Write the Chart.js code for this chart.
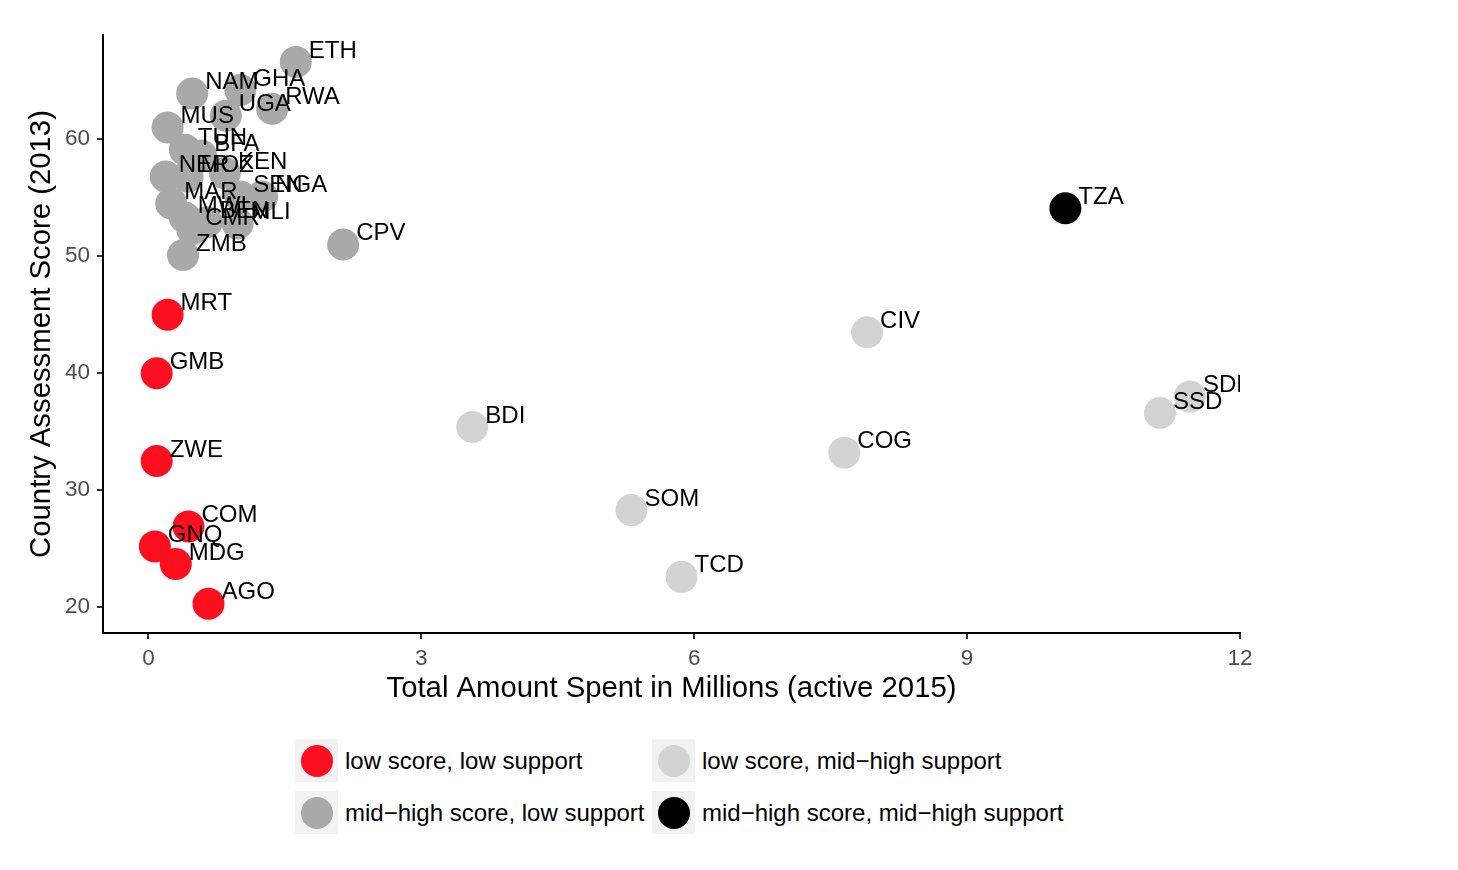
<!DOCTYPE html>
<html>
<head>
<meta charset="utf-8">
<script src="https://cdn.jsdelivr.net/npm/chart.js@4.4.1/dist/chart.umd.min.js"></script>
<style>
  body { margin: 0; background: #fff; font-family: 'Liberation Sans', Arial, sans-serif; }
  #wrap { position: relative; width: 1458px; height: 870px; }
  #legend { position: absolute; left: 295px; top: 739px; display: grid;
            grid-template-columns: 357px auto; row-gap: 9px; }
  .item { display: flex; align-items: center; height: 43px; }
  .key { width: 43px; height: 43px; background: #f2f2f2; display: flex;
         align-items: center; justify-content: center; margin-right: 7px; }
  .dot { width: 32px; height: 32px; border-radius: 50%; }
  .item span { font-size: 24px; color: #000; }
</style>
</head>
<body>
<div id="wrap">
  <canvas id="chart" width="1458" height="720"></canvas>
  <div id="legend"></div>
</div>
<script>
// groups, in legend order (filled by column like ggplot: col 1 = first two)
const groups = ['low score, low support', 'mid\u2212high score, low support',
                'low score, mid\u2212high support', 'mid\u2212high score, mid\u2212high support'];
const groupColors = ['#fe0f1f', '#a9a9a9', '#d3d3d3', '#000000'];

const countries = ['ETH', 'GHA', 'NAM', 'UGA', 'RWA', 'MUS', 'TUN', 'BFA', 'NER', 'MOZ',
  'KEN', 'SEN', 'NGA', 'MAR', 'MWI', 'BEN', 'MLI', 'CMR', 'ZMB', 'CPV', 'TZA',
  'MRT', 'GMB', 'ZWE', 'COM', 'GNQ', 'MDG', 'AGO',
  'CIV', 'BDI', 'COG', 'SOM', 'TCD', 'SDN', 'SSD'];
const spent = [1.62, 1.01, 0.48, 0.85, 1.36, 0.21, 0.40, 0.58, 0.19, 0.43,
  0.84, 1.01, 1.25, 0.25, 0.40, 0.64, 0.98, 0.48, 0.38, 2.14, 10.08,
  0.21, 0.09, 0.09, 0.44, 0.07, 0.30, 0.66,
  7.90, 3.56, 7.65, 5.31, 5.86, 11.45, 11.12];
const scores = [66.6, 64.2, 63.9, 62.0, 62.6, 61.0, 59.1, 58.6, 56.8, 56.8,
  57.1, 55.1, 55.1, 54.5, 53.3, 52.9, 52.8, 52.3, 50.1, 51.0, 54.1,
  45.0, 40.0, 32.5, 26.9, 25.2, 23.7, 20.3,
  43.5, 35.4, 33.2, 28.3, 22.6, 38.0, 36.6];
const groupOf = [1, 1, 1, 1, 1, 1, 1, 1, 1, 1,
  1, 1, 1, 1, 1, 1, 1, 1, 1, 1, 3,
  0, 0, 0, 0, 0, 0, 0,
  2, 2, 2, 2, 2, 2, 2];

const xTicks = [0, 3, 6, 9, 12];
const yTicks = [20, 30, 40, 50, 60];

const FONT = "'Liberation Sans', Arial, sans-serif";

const datasets = groups.map((g, gi) => {
  const pts = [];
  countries.forEach((c, i) => {
    if (groupOf[i] === gi) pts.push({ x: spent[i], y: scores[i], label: c });
  });
  return {
    label: g,
    data: pts,
    backgroundColor: groupColors[gi],
    borderWidth: 0,
    pointRadius: 16,
    pointHoverRadius: 16
  };
});

// country codes next to the points, clipped to the panel
const pointLabels = {
  id: 'pointLabels',
  afterDatasetsDraw(chart) {
    const ctx = chart.ctx;
    const a = chart.chartArea;
    ctx.save();
    ctx.beginPath();
    ctx.rect(a.left, a.top, a.right - a.left, a.bottom - a.top);
    ctx.clip();
    ctx.font = '24px ' + FONT;
    ctx.fillStyle = '#000';
    ctx.textAlign = 'left';
    ctx.textBaseline = 'middle';
    chart.data.datasets.forEach((ds, di) => {
      chart.getDatasetMeta(di).data.forEach((el, i) => {
        ctx.fillText(ds.data[i].label, el.x + 13, el.y - 11);
      });
    });
    ctx.restore();
  }
};

new Chart(document.getElementById('chart'), {
  type: 'scatter',
  data: { datasets: datasets },
  plugins: [pointLabels],
  options: {
    responsive: false,
    animation: false,
    events: [],
    layout: { padding: { top: 35, right: 218, left: 0, bottom: 0 } },
    plugins: { legend: { display: false }, tooltip: { enabled: false } },
    scales: {
      x: {
        type: 'linear',
        min: -0.5,
        max: 12,
        afterBuildTicks: s => { s.ticks = xTicks.map(v => ({ value: v })); },
        afterFit: s => { s.height = 87; },
        border: { display: true, color: '#000', width: 2 },
        grid: { drawOnChartArea: false, drawTicks: true, tickLength: 6, color: '#333', lineWidth: 2 },
        ticks: { color: '#4d4d4d', font: { family: FONT, size: 22.5 }, padding: 6, maxRotation: 0 },
        title: { display: true, text: 'Total Amount Spent in Millions (active 2015)',
                 color: '#000', font: { family: FONT, size: 29.3 }, padding: { top: 0, bottom: 14 } }
      },
      y: {
        type: 'linear',
        min: 17.8,
        max: 68.9,
        afterBuildTicks: s => { s.ticks = yTicks.map(v => ({ value: v })); },
        afterFit: s => { s.width = 103; },
        border: { display: true, color: '#000', width: 2 },
        grid: { drawOnChartArea: false, drawTicks: true, tickLength: 6, color: '#333', lineWidth: 2 },
        ticks: { color: '#4d4d4d', font: { family: FONT, size: 22.5 }, padding: 7 },
        title: { display: true, text: 'Country Assessment Score (2013)',
                 color: '#000', font: { family: FONT, size: 29.3 }, padding: { top: 24, bottom: 0 } }
      }
    }
  }
});

// legend, 2 x 2, column-wise like the original
const legend = document.getElementById('legend');
[0, 2, 1, 3].forEach(gi => {
  const item = document.createElement('div');
  item.className = 'item';
  item.innerHTML = '<div class="key"><div class="dot" style="background:' + groupColors[gi] +
    '"></div></div><span>' + groups[gi] + '</span>';
  legend.appendChild(item);
});
</script>
</body>
</html>
